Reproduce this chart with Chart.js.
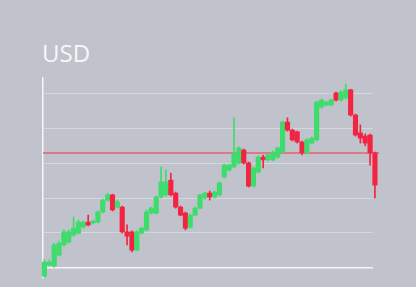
<!DOCTYPE html>
<html>
<head>
<meta charset="utf-8">
<script src="https://cdn.jsdelivr.net/npm/chart.js@4/dist/chart.umd.min.js"></script>
<style>
  html, body { margin: 0; padding: 0; background: #c0c3cb; }
  #wrap { position: relative; width: 416px; height: 287px; overflow: hidden; }
  #title { position: absolute; left: 42px; top: 36px; font-family: "Open Sans", sans-serif; font-size: 24px; color: #f6f7f9; line-height: normal; }
  canvas { position: absolute; left: 0; top: 0; }
</style>
</head>
<body>
<div id="wrap">
  <div id="title">USD</div>
  <canvas id="c" width="416" height="287"></canvas>
</div>
<script>
// Candle values (index = trading period)
const opens  = [-2.3,0.9,0.6,3.7,6.6,7.4,9.4,10.0,11.7,13.1,12.9,13.1,16.0,19.4,20.9,17.4,17.4,10.3,10.3,5.1,10.0,10.9,15.7,15.7,20.3,20.9,25.1,21.4,17.4,15.7,11.7,15.1,17.1,20.0,21.4,20.3,20.9,26.0,28.0,28.9,30.0,33.7,30.0,23.4,27.4,31.7,30.9,30.9,31.7,33.1,41.7,39.4,38.9,36.0,32.9,35.7,36.6,46.0,46.6,46.6,50.0,48.0,48.6,50.9,43.7,38.6,37.7,38.0,32.9];
const closes = [1.7,1.7,6.6,7.1,10.3,10.3,11.4,13.1,13.1,12.3,13.4,16.0,19.4,20.9,16.6,18.9,10.3,9.1,5.1,10.3,11.4,16.0,17.1,20.3,24.6,24.6,20.9,17.4,15.1,11.4,15.1,17.1,20.9,21.4,20.3,21.7,24.3,29.4,29.4,32.9,34.3,30.0,23.4,28.6,31.7,30.9,32.3,33.1,34.3,41.7,39.4,36.6,36.0,32.9,36.6,37.1,47.4,48.0,47.4,48.0,48.0,50.3,50.9,43.7,38.0,37.1,35.7,32.9,23.7];
const highs  = [2.3,2.3,7.1,7.7,10.9,10.9,14.6,13.7,13.4,15.1,13.7,16.3,19.7,21.4,21.1,19.4,17.7,12.3,10.6,10.6,11.7,16.6,17.4,20.6,28.9,28.0,27.1,21.7,17.7,16.0,15.4,17.4,21.1,21.7,22.0,22.0,24.6,29.7,29.7,42.9,34.6,34.0,30.3,28.9,32.0,32.3,32.6,33.4,34.6,42.0,42.9,39.7,39.1,36.3,36.9,37.4,47.7,48.3,47.7,48.3,50.3,50.6,52.6,51.1,44.0,40.9,38.3,38.3,33.1];
const lows   = [-2.6,0.6,0.0,3.4,6.3,7.1,9.1,9.7,11.4,12.0,12.6,12.9,15.7,19.1,16.3,17.1,10.0,6.6,4.6,4.9,9.7,10.6,15.4,15.4,20.0,20.6,20.6,17.1,14.9,10.9,11.4,14.9,16.9,19.7,19.4,20.0,20.6,25.7,27.7,28.6,29.7,29.7,23.1,23.1,27.1,28.6,30.6,30.6,31.4,32.9,39.1,36.3,35.7,32.3,32.6,35.4,36.3,45.7,46.3,46.3,47.7,47.7,48.3,43.4,37.7,35.7,34.9,29.4,20.0];
const periods = opens.map((_, i) => i);
const gridValues = [0, 10, 20, 30, 40, 50];
const referenceLevel = 32.9;

const UP = 'rgb(62, 220, 108)';
const DOWN = 'rgb(242, 36, 66)';
const colors = periods.map(i => closes[i] >= opens[i] ? UP : DOWN);

const refLine = {
  id: 'refLine',
  beforeDatasetsDraw(chart) {
    const { ctx, chartArea, scales } = chart;
    const y = Math.round(scales.y.getPixelForValue(referenceLevel));
    const xEnd = scales.x.getPixelForValue(periods[periods.length - 1]) + 4;
    ctx.save();
    ctx.globalAlpha = 1;
    ctx.fillStyle = '#e8626c';
    ctx.fillRect(chartArea.left, y - 0.75, xEnd - chartArea.left, 1.5);
    ctx.restore();
  }
};

new Chart(document.getElementById('c'), {
  type: 'bar',
  data: {
    labels: periods,
    datasets: [
      {
        label: 'wick',
        data: periods.map(i => ({ x: i, y: [lows[i], highs[i]] })),
        backgroundColor: colors,
        barThickness: 1,
        grouped: false,
        clip: false,
        order: 2
      },
      {
        label: 'body',
        data: periods.map(i => ({ x: i, y: [opens[i], closes[i]] })),
        backgroundColor: colors,
        barThickness: 4.5,
        grouped: false,
        clip: false,
        order: 1
      }
    ]
  },
  options: {
    responsive: false,
    animation: false,
    devicePixelRatio: 1,
    layout: { padding: { left: 43, right: 43, top: 78, bottom: 9 } },
    plugins: { legend: { display: false }, tooltip: { enabled: false }, title: { display: false } },
    scales: {
      x: {
        type: 'linear',
        display: false,
        offset: false,
        min: -0.3,
        max: 67.6
      },
      y: {
        min: -2.86,
        max: 54.29,
        afterFit(s) { s.width = 0; },
        afterBuildTicks(s) { s.ticks = gridValues.map(v => ({ value: v })); },
        ticks: { display: false },
        border: { display: true, color: '#f4f5f7', width: 1.5 },
        grid: {
          drawTicks: false,
          color: ctx => ctx.tick && ctx.tick.value === 0 ? '#f4f5f7' : 'rgba(255,255,255,0.33)',
          lineWidth: ctx => ctx.tick && ctx.tick.value === 0 ? 1.5 : 1
        }
      }
    }
  },
  plugins: [refLine]
});
</script>
</body>
</html>
